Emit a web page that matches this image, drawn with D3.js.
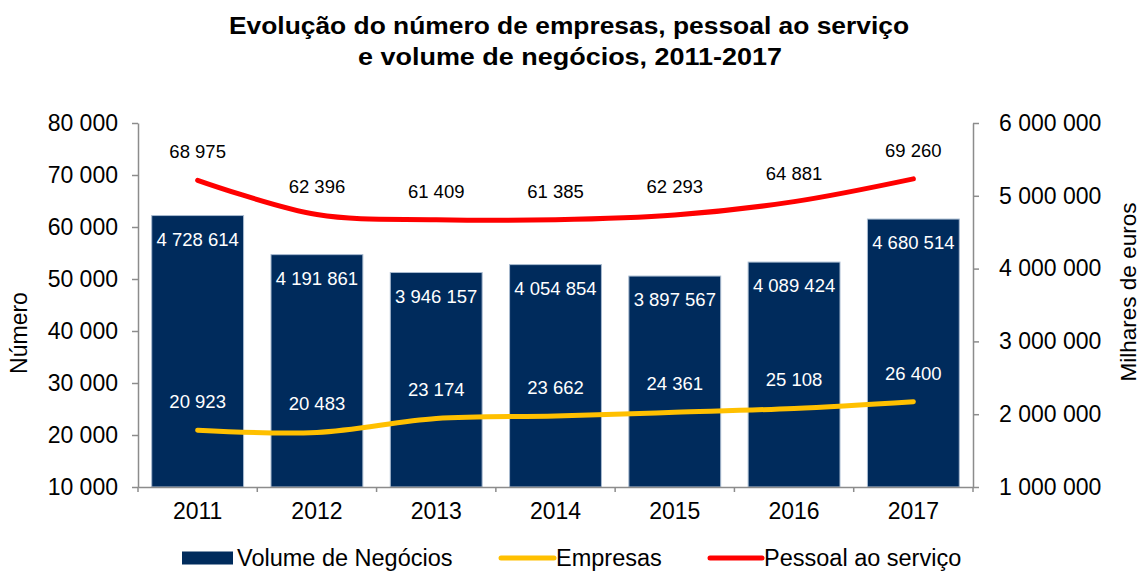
<!DOCTYPE html>
<html>
<head>
<meta charset="utf-8">
<script src="https://cdn.jsdelivr.net/npm/d3@7"></script>
<style>
  body { margin: 0; background: #fff; }
  text { font-family: "Liberation Sans", Arial, sans-serif; }
</style>
</head>
<body>
<div id="wrapper"></div>
<script>
// data
const years = ["2011", "2012", "2013", "2014", "2015", "2016", "2017"];
const volumeNegocios = [4728614, 4191861, 3946157, 4054854, 3897567, 4089424, 4680514];
const empresas = [20923, 20483, 23174, 23662, 24361, 25108, 26400];
const pessoal = [68975, 62396, 61409, 61385, 62293, 64881, 69260];
const leftTicks = [10000, 20000, 30000, 40000, 50000, 60000, 70000, 80000];
const rightTicks = [1000000, 2000000, 3000000, 4000000, 5000000, 6000000];

const fmt = v => d3.format(",")(v).replace(/,/g, " ");

const dimensions = {
    width: 1140,
    height: 572,
    margin: { top: 123, right: 167, bottom: 85, left: 138 },
};
dimensions.boundedWidth = dimensions.width - dimensions.margin.left - dimensions.margin.right;
dimensions.boundedHeight = dimensions.height - dimensions.margin.top - dimensions.margin.bottom;

const wrapper = d3.select("#wrapper")
    .append("svg")
    .attr("width", dimensions.width)
    .attr("height", dimensions.height);

const bounds = wrapper.append("g")
    .attr("transform", `translate(${dimensions.margin.left}, ${dimensions.margin.top})`);

// scales
const xScale = d3.scaleBand()
    .domain(years)
    .range([0, dimensions.boundedWidth])
    .paddingInner(0.23)
    .paddingOuter(0.115);

const yLeft = d3.scaleLinear()
    .domain([10000, 80000])
    .range([dimensions.boundedHeight, 0]);

const yRight = d3.scaleLinear()
    .domain([1000000, 6000000])
    .range([dimensions.boundedHeight, 0]);

// bars
bounds.selectAll("rect.bar")
    .data(years)
    .join("rect")
    .attr("class", "bar")
    .attr("x", d => xScale(d))
    .attr("width", xScale.bandwidth())
    .attr("y", (d, i) => yRight(volumeNegocios[i]))
    .attr("height", (d, i) => dimensions.boundedHeight - yRight(volumeNegocios[i]))
    .attr("fill", "#002b5c")
    .attr("stroke", "#a9bbd0")
    .attr("stroke-width", 1);

bounds.selectAll("text.barLabel")
    .data(years)
    .join("text")
    .attr("class", "barLabel")
    .attr("x", d => xScale(d) + xScale.bandwidth() / 2)
    .attr("y", (d, i) => yRight(volumeNegocios[i]) + 30)
    .attr("text-anchor", "middle")
    .attr("fill", "#fff")
    .style("font-size", "18.5px")
    .text((d, i) => fmt(volumeNegocios[i]));

// lines (lightly smoothed like the original)
const cx = d => xScale(d) + xScale.bandwidth() / 2;
const lineGen = values => d3.line()
    .x(d => cx(d))
    .y((d, i) => yLeft(values[i]))
    .curve(d3.curveCatmullRom.alpha(0.5));

bounds.append("path")
    .datum(years)
    .attr("d", lineGen(empresas))
    .attr("fill", "none")
    .attr("stroke", "#ffc000")
    .attr("stroke-width", 5)
    .attr("stroke-linecap", "round");

bounds.append("path")
    .datum(years)
    .attr("d", lineGen(pessoal))
    .attr("fill", "none")
    .attr("stroke", "#ff0000")
    .attr("stroke-width", 5)
    .attr("stroke-linecap", "round");

bounds.selectAll("text.empLabel")
    .data(years)
    .join("text")
    .attr("class", "empLabel")
    .attr("x", cx)
    .attr("y", (d, i) => yLeft(empresas[i]) - 22)
    .attr("text-anchor", "middle")
    .attr("fill", "#fff")
    .style("font-size", "18.5px")
    .text((d, i) => fmt(empresas[i]));

bounds.selectAll("text.pesLabel")
    .data(years)
    .join("text")
    .attr("class", "pesLabel")
    .attr("x", cx)
    .attr("y", (d, i) => yLeft(pessoal[i]) - 22)
    .attr("text-anchor", "middle")
    .attr("fill", "#000")
    .style("font-size", "18.5px")
    .text((d, i) => fmt(pessoal[i]));

// axes
const styleAxis = g => {
    g.select(".domain").attr("stroke", "#8c8c8c").attr("stroke-width", 1.5);
    g.selectAll(".tick line").attr("stroke", "#8c8c8c").attr("stroke-width", 1.5);
    g.selectAll(".tick text")
        .attr("fill", "#000")
        .style("font-family", "'Liberation Sans', Arial, sans-serif")
        .style("font-size", "23px");
};

const yAxisLeft = bounds.append("g")
    .call(d3.axisLeft(yLeft).tickValues(leftTicks).tickFormat(fmt).tickSize(6).tickSizeOuter(0).tickPadding(14))
    .call(styleAxis);

const yAxisRight = bounds.append("g")
    .attr("transform", `translate(${dimensions.boundedWidth}, 0)`)
    .call(d3.axisRight(yRight).tickValues(rightTicks).tickFormat(fmt).tickSize(6).tickSizeOuter(0).tickPadding(20))
    .call(styleAxis);

const xAxis = bounds.append("g")
    .attr("transform", `translate(0, ${dimensions.boundedHeight})`)
    .call(d3.axisBottom(xScale).tickSize(0).tickPadding(16))
    .call(styleAxis);
xAxis.selectAll(".tick text").attr("dy", "0.71em");

// category boundary ticks on the x axis
const boundaries = years.map(d => xScale(d) - xScale.step() * xScale.paddingInner() / 2)
    .concat([dimensions.boundedWidth]);
xAxis.selectAll("line.sep")
    .data(boundaries)
    .join("line")
    .attr("class", "sep")
    .attr("x1", d => d)
    .attr("x2", d => d)
    .attr("y1", 0)
    .attr("y2", 5)
    .attr("stroke", "#8c8c8c")
    .attr("stroke-width", 1.5);

// axis titles
wrapper.append("text")
    .attr("transform", `translate(27, ${dimensions.margin.top + dimensions.boundedHeight / 2 + 28}) rotate(-90)`)
    .attr("text-anchor", "middle")
    .style("font-size", "23px")
    .text("Número");

wrapper.append("text")
    .attr("transform", `translate(1136, ${dimensions.margin.top + dimensions.boundedHeight / 2 - 13}) rotate(-90)`)
    .attr("text-anchor", "middle")
    .style("font-size", "22.5px")
    .text("Milhares de euros");

// title
const title = wrapper.append("text")
    .attr("text-anchor", "middle")
    .style("font-size", "23.5px")
    .style("font-weight", "bold");
title.append("tspan").attr("x", 569).attr("y", 34)
    .attr("textLength", 680).attr("lengthAdjust", "spacingAndGlyphs")
    .text("Evolução do número de empresas, pessoal ao serviço");
title.append("tspan").attr("x", 570).attr("y", 65)
    .attr("textLength", 424).attr("lengthAdjust", "spacingAndGlyphs")
    .text("e volume de negócios, 2011-2017");

// legend
const legend = wrapper.append("g").attr("transform", "translate(0, 558)");
legend.append("rect")
    .attr("x", 182).attr("y", -6.5)
    .attr("width", 51).attr("height", 13)
    .attr("fill", "#002b5c");
legend.append("text")
    .attr("x", 237).attr("y", 8)
    .style("font-size", "23.5px")
    .text("Volume de Negócios");

legend.append("line")
    .attr("x1", 501).attr("x2", 554).attr("y1", 0).attr("y2", 0)
    .attr("stroke", "#ffc000").attr("stroke-width", 5).attr("stroke-linecap", "round");
legend.append("text")
    .attr("x", 556).attr("y", 8)
    .style("font-size", "23.5px")
    .text("Empresas");

legend.append("line")
    .attr("x1", 710).attr("x2", 762).attr("y1", 0).attr("y2", 0)
    .attr("stroke", "#ff0000").attr("stroke-width", 5).attr("stroke-linecap", "round");
legend.append("text")
    .attr("x", 764).attr("y", 8)
    .style("font-size", "23.5px")
    .text("Pessoal ao serviço");
</script>
</body>
</html>
